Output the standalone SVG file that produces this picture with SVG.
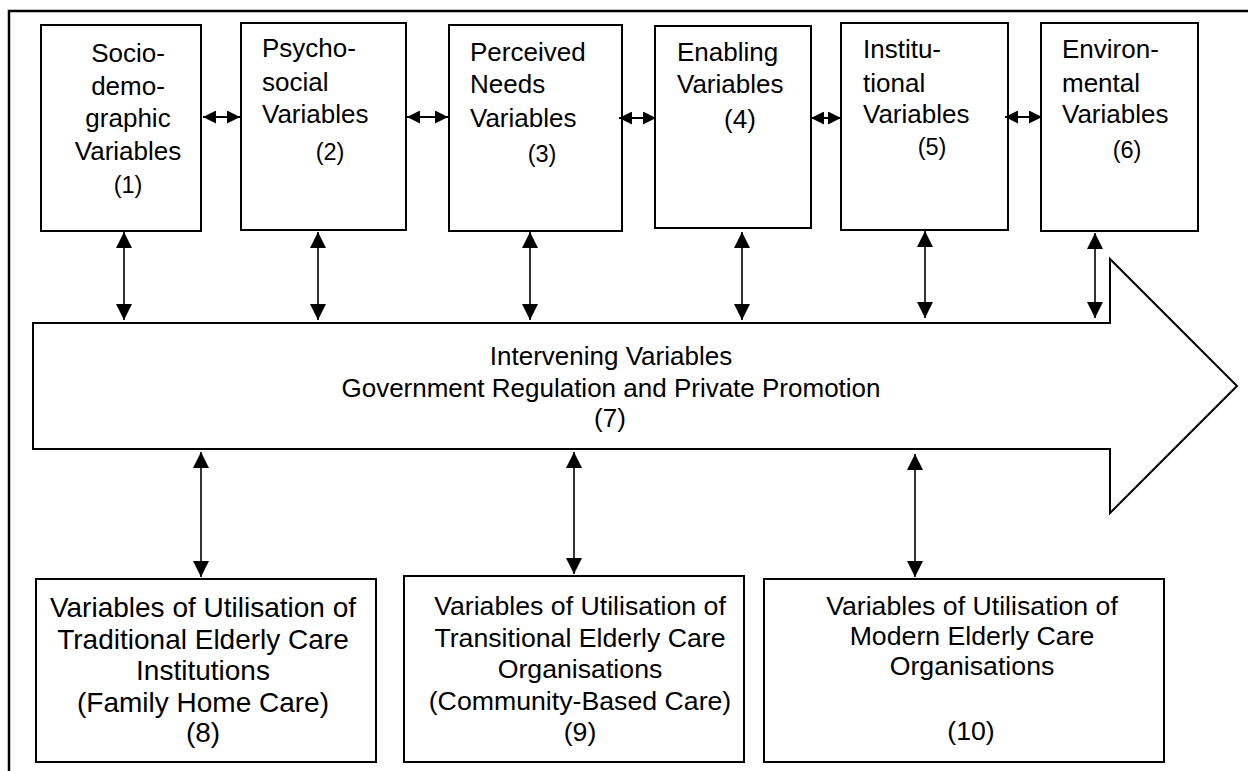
<svg xmlns="http://www.w3.org/2000/svg" width="1248" height="771" viewBox="0 0 1248 771">
<style>
.box{fill:#fff;stroke:#000;stroke-width:2}
.t{font-family:"Liberation Sans",Arial,sans-serif;font-size:26px;fill:#000}
.b{font-size:26.7px}
.n{font-family:"Liberation Sans",Arial,sans-serif;font-size:23.5px;fill:#000}
.c{text-anchor:middle}
.v{stroke:#000;stroke-width:1.6;fill:none;marker-start:url(#av);marker-end:url(#av)}
.h{stroke:#000;stroke-width:2;fill:none;marker-start:url(#ah);marker-end:url(#ah)}
</style>
<defs>
<marker id="av" markerUnits="userSpaceOnUse" markerWidth="16" markerHeight="16" refX="16" refY="8" orient="auto-start-reverse" viewBox="0 0 16 16"><path d="M0,0 L16,8 L0,16 z" fill="#000"/></marker>
<marker id="ah" markerUnits="userSpaceOnUse" markerWidth="13" markerHeight="13" refX="13" refY="6.5" orient="auto-start-reverse" viewBox="0 0 13 13"><path d="M0,0 L13,6.5 L0,13 z" fill="#000"/></marker>
</defs>
<rect width="1248" height="771" fill="#fff"/>
<g id="frame"><path d="M9,771 L9,11 L1248,11" fill="none" stroke="#000" stroke-width="2.5"/></g>

<g id="n1"><rect class="box" x="41" y="25" width="160" height="206"/>
<text class="t c" x="128" y="62">Socio-</text><text class="t c" x="128" y="95">demo-</text><text class="t c" x="128" y="127">graphic</text><text class="t c" x="128" y="160">Variables</text><text class="n c" x="128" y="193">(1)</text></g>

<g id="n2"><rect class="box" x="241" y="23" width="165" height="207"/>
<text class="t" x="262" y="57">Psycho-</text><text class="t" x="262" y="91">social</text><text class="t" x="262" y="123">Variables</text><text class="n c" x="330" y="160">(2)</text></g>

<g id="n3"><rect class="box" x="449" y="25" width="173" height="206"/>
<text class="t" x="470" y="61">Perceived</text><text class="t" x="470" y="93">Needs</text><text class="t" x="470" y="127">Variables</text><text class="n c" x="542" y="162">(3)</text></g>

<g id="n4"><rect class="box" x="655" y="26" width="156" height="202"/>
<text class="t" x="677" y="61">Enabling</text><text class="t" x="677" y="93">Variables</text><text class="t c" x="740" y="128">(4)</text></g>

<g id="n5"><rect class="box" x="841" y="23" width="167" height="207"/>
<text class="t" x="863" y="58">Institu-</text><text class="t" x="863" y="92">tional</text><text class="t" x="863" y="123">Variables</text><text class="n c" x="932" y="155">(5)</text></g>

<g id="n6"><rect class="box" x="1041" y="23" width="157" height="208"/>
<text class="t" x="1062" y="58">Environ-</text><text class="t" x="1062" y="92">mental</text><text class="t" x="1062" y="123">Variables</text><text class="n c" x="1127" y="158">(6)</text></g>

<g id="n7"><path class="box" d="M33,323 L1110,323 L1110,259 L1237,386 L1110,513 L1110,449 L33,449 Z"/>
<text class="t c" x="611" y="365">Intervening Variables</text><text class="t c" x="611" y="397">Government Regulation and Private Promotion</text><text class="t c" x="610" y="427">(7)</text></g>

<g id="n8"><rect class="box" x="36" y="579" width="340" height="183"/>
<text class="t c" x="203" y="617" style="font-size:28px">Variables of Utilisation of</text><text class="t c" x="203" y="649" style="font-size:28px">Traditional Elderly Care</text><text class="t c" x="203" y="680" style="font-size:28px">Institutions</text><text class="t c" x="203" y="712" style="font-size:28px">(Family Home Care)</text><text class="t c" x="203" y="742" style="font-size:28px">(8)</text></g>

<g id="n9"><rect class="box" x="404" y="576" width="340" height="186"/>
<text class="t b c" x="580" y="615">Variables of Utilisation of</text><text class="t b c" x="580" y="647">Transitional Elderly Care</text><text class="t b c" x="580" y="678">Organisations</text><text class="t b c" x="580" y="710">(Community-Based Care)</text><text class="t b c" x="580" y="741">(9)</text></g>

<g id="n10"><rect class="box" x="764" y="579" width="400" height="183"/>
<text class="t b c" x="972" y="615">Variables of Utilisation of</text><text class="t b c" x="972" y="645">Modern Elderly Care</text><text class="t b c" x="972" y="675">Organisations</text><text class="t b c" x="971" y="740">(10)</text></g>

<g id="connectors">
<line class="h" x1="203" y1="117" x2="240" y2="117"/>
<line class="h" x1="407" y1="117" x2="448" y2="117"/>
<line class="h" x1="619" y1="118" x2="656" y2="118"/>
<line class="h" x1="811" y1="118" x2="841" y2="118"/>
<line class="h" x1="1005" y1="117" x2="1042" y2="117"/>
<line class="v" x1="124" y1="232" x2="124" y2="320"/>
<line class="v" x1="318" y1="232" x2="318" y2="320"/>
<line class="v" x1="530" y1="232" x2="530" y2="320"/>
<line class="v" x1="742" y1="232" x2="742" y2="320"/>
<line class="v" x1="925" y1="231" x2="925" y2="318"/>
<line class="v" x1="1095" y1="233" x2="1095" y2="318"/>
<line class="v" x1="201" y1="452" x2="201" y2="577"/>
<line class="v" x1="574" y1="452" x2="574" y2="574"/>
<line class="v" x1="915" y1="454" x2="915" y2="577"/>
</g>
</svg>
